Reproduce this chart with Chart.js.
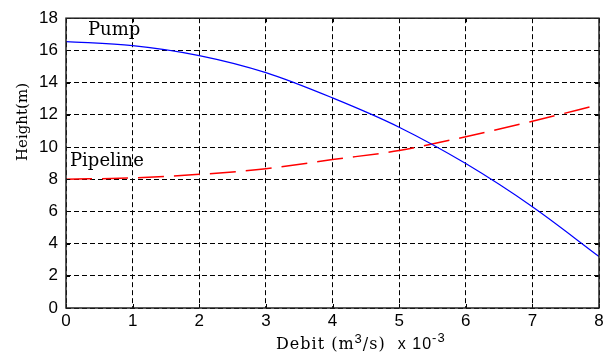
<!DOCTYPE html>
<html>
<head>
<meta charset="utf-8">
<script src="https://cdn.jsdelivr.net/npm/chart.js@4.4.1/dist/chart.umd.min.js"></script>
<style>
  body { margin: 0; background: #fff; }
  #wrap { width: 609px; height: 354px; }
</style>
</head>
<body>
<div id="wrap"><canvas id="grafico" width="609" height="354"></canvas></div>
<script>
// debit (m3/s x 10^-3)
const debit = [0, 1, 2, 3, 4, 5, 6, 7, 8];
// heights (m)
const pumpHeight = [16.55, 16.3, 15.68, 14.62, 13.05, 11.23, 8.97, 6.29, 3.2];
const pipelineHeight = [8.0, 8.08, 8.3, 8.65, 9.22, 9.78, 10.64, 11.6, 12.63];
const xTicks = [0, 1, 2, 3, 4, 5, 6, 7, 8];
const yTicks = [0, 2, 4, 6, 8, 10, 12, 14, 16, 18];

const toPoints = (xs, ys) => xs.map((x, i) => ({ x, y: ys[i] }));

// frame, inward ticks and all the text around the plot
const decorPlugin = {
    id: 'decor',
    afterDraw(chart) {
        const { ctx, chartArea: a, scales: { x, y } } = chart;
        ctx.save();
        ctx.setLineDash([]);
        ctx.strokeStyle = '#000';
        ctx.lineWidth = 1;

        // inward ticks
        ctx.beginPath();
        xTicks.forEach(v => {
            const px = Math.round(x.getPixelForValue(v)) + 0.5;
            ctx.moveTo(px, a.bottom); ctx.lineTo(px, a.bottom - 4);
            ctx.moveTo(px, a.top); ctx.lineTo(px, a.top + 4);
        });
        yTicks.forEach(v => {
            const py = Math.round(y.getPixelForValue(v)) + 0.5;
            ctx.moveTo(a.left, py); ctx.lineTo(a.left + 4, py);
            ctx.moveTo(a.right, py); ctx.lineTo(a.right - 4, py);
        });
        ctx.stroke();

        ctx.lineWidth = 1.5;
        ctx.strokeStyle = '#222';
        ctx.strokeRect(a.left, a.top, a.right - a.left, a.bottom - a.top);

        // curve labels
        ctx.fillStyle = '#000';
        ctx.textBaseline = 'middle';
        ctx.textAlign = 'left';
        ctx.font = '18px "DejaVu Serif"';
        ctx.fillText('Pump', x.getPixelForValue(0.33), y.getPixelForValue(17.27));
        ctx.fillText('Pipeline', x.getPixelForValue(0.06), y.getPixelForValue(9.1));

        // y title
        ctx.save();
        ctx.translate(23, 122);
        ctx.rotate(-Math.PI / 2);
        ctx.textAlign = 'center';
        ctx.font = '15px "DejaVu Serif"';
        ctx.fillText('Height(m)', 0, 0);
        ctx.restore();

        // x title with superscripts
        const parts = [
            ['Debit (m', '16px "DejaVu Serif"', 0],
            ['3', '13px "Liberation Sans"', -6],
            ['/s)  ', '16px "DejaVu Serif"', 0],
            ['x 10', '16px "Liberation Sans"', 0],
            ['-3', '13px "Liberation Sans"', -7]
        ];
        ctx.textBaseline = 'alphabetic';
        ctx.letterSpacing = '1px';
        let tx = 276;
        const base = 349;
        parts.forEach(([t, f, dy]) => {
            ctx.font = f;
            ctx.fillText(t, tx, base + dy);
            tx += ctx.measureText(t).width;
        });
        ctx.restore();
    }
};

const ctx = document.getElementById('grafico').getContext('2d');
const grafico = new Chart(ctx, {
    type: 'line',
    data: {
        datasets: [
            {
                label: 'Pump',
                data: toPoints(debit, pumpHeight),
                borderColor: '#0000ff',
                borderWidth: 1.2,
                pointRadius: 0,
                cubicInterpolationMode: 'monotone'
            },
            {
                label: 'Pipeline',
                data: toPoints(debit, pipelineHeight),
                borderColor: '#ff0000',
                borderWidth: 1.5,
                borderDash: [26, 10],
                pointRadius: 0,
                cubicInterpolationMode: 'monotone'
            }
        ]
    },
    options: {
        responsive: false,
        animation: false,
        layout: { padding: { top: 11, right: 10, left: 0, bottom: 0 } },
        plugins: {
            legend: { display: false },
            tooltip: { enabled: false }
        },
        scales: {
            x: {
                type: 'linear',
                min: 0,
                max: 8,
                afterFit: (scale) => { scale.height = 46; },
                afterBuildTicks: (scale) => { scale.ticks = xTicks.map(value => ({ value })); },
                ticks: {
                    color: '#000',
                    padding: 3,
                    font: { family: 'Liberation Sans', size: 17 }
                },
                grid: { color: '#000', lineWidth: 1, drawTicks: false },
                border: { display: false, dash: [5, 3] }
            },
            y: {
                min: 0,
                max: 18,
                afterFit: (scale) => { scale.width = 66; },
                afterBuildTicks: (scale) => { scale.ticks = yTicks.map(value => ({ value })); },
                ticks: {
                    color: '#000',
                    padding: 8,
                    font: { family: 'Liberation Sans', size: 17 }
                },
                grid: { color: '#000', lineWidth: 1, drawTicks: false },
                border: { display: false, dash: [5, 3] }
            }
        }
    },
    plugins: [decorPlugin]
});
</script>
</body>
</html>
